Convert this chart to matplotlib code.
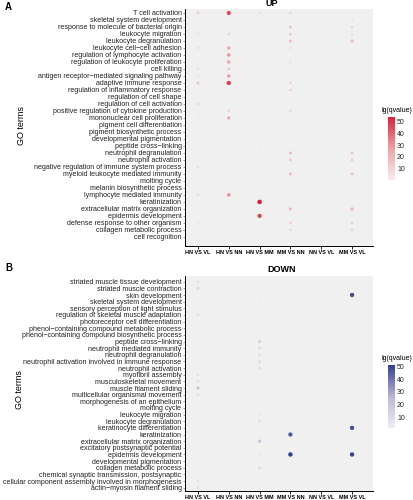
import matplotlib.pyplot as plt
import numpy as np
from matplotlib.colors import LinearSegmentedColormap, Normalize
from matplotlib.cm import ScalarMappable

plt.rcParams['font.family'] = ['Liberation Sans', 'DejaVu Sans']

# comparisons on the x axis
comparisons = ['HN VS VL', 'HN VS NN', 'HN VS MM', 'MM VS NN', 'NN VS VL', 'MM VS VL']

# UP panel: GO terms (top to bottom) and lg(qvalue) per comparison, 0 = no dot
up_terms = ['T cell activation', 'skeletal system development',
            'response to molecule of bacterial origin', 'leukocyte migration',
            'leukocyte degranulation', 'leukocyte cell\u2212cell adhesion',
            'regulation of lymphocyte activation', 'regulation of leukocyte proliferation',
            'cell killing', 'antigen receptor\u2212mediated signaling pathway',
            'adaptive immune response', 'regulation of inflammatory response',
            'regulation of cell shape', 'regulation of cell activation',
            'positive regulation of cytokine production', 'mononuclear cell proliferation',
            'pigment cell differentiation', 'pigment biosynthetic process',
            'developmental pigmentation', 'peptide cross\u2212linking',
            'neutrophil degranulation', 'neutrophil activation',
            'negative regulation of immune system process',
            'myeloid leukocyte mediated immunity', 'molting cycle',
            'melanin biosynthetic process', 'lymphocyte mediated immunity',
            'keratinization', 'extracellular matrix organization',
            'epidermis development', 'defense response to other organism',
            'collagen metabolic process', 'cell recognition']
up_vals = [
    [14, 45, 8, 10, 0, 0],
    [0, 0, 0, 0, 0, 6],
    [0, 0, 0, 16, 0, 10],
    [7, 12, 0, 14, 0, 8],
    [0, 0, 0, 18, 0, 20],
    [8, 26, 5, 8, 0, 0],
    [0, 30, 0, 0, 0, 0],
    [0, 26, 0, 7, 0, 0],
    [8, 14, 0, 0, 0, 0],
    [7, 28, 0, 0, 0, 0],
    [16, 48, 0, 12, 0, 5],
    [0, 0, 0, 12, 0, 5],
    [0, 0, 0, 0, 0, 4],
    [10, 0, 0, 0, 0, 0],
    [0, 12, 0, 10, 0, 5],
    [5, 24, 0, 0, 0, 0],
    [0, 0, 0, 0, 3, 0],
    [0, 0, 0, 0, 3, 0],
    [0, 0, 0, 0, 3, 0],
    [0, 0, 4, 0, 0, 0],
    [0, 0, 0, 18, 0, 16],
    [0, 0, 0, 16, 0, 14],
    [8, 0, 0, 0, 0, 0],
    [0, 0, 0, 18, 0, 18],
    [0, 0, 0, 0, 0, 5],
    [0, 0, 0, 0, 0, 4],
    [8, 30, 0, 0, 0, 0],
    [0, 0, 54, 0, 0, 0],
    [0, 0, 0, 20, 0, 22],
    [0, 0, 46, 0, 0, 0],
    [5, 0, 0, 12, 0, 12],
    [0, 0, 0, 10, 0, 12],
    [0, 0, 0, 3, 0, 0],
]

# DOWN panel
down_terms = ['striated muscle tissue development', 'striated muscle contraction',
              'skin development', 'skeletal system development',
              'sensory perception of light stimulus',
              'regulation of skeletal muscle adaptation',
              'photoreceptor cell differentiation',
              'phenol\u2212containing compound metabolic process',
              'phenol\u2212containing compound biosynthetic process',
              'peptide cross\u2212linking', 'neutrophil mediated immunity',
              'neutrophil degranulation',
              'neutrophil activation involved in immune response',
              'neutrophil activation', 'myofibril assembly',
              'musculoskeletal movement', 'muscle filament sliding',
              'multicellular organismal movement', 'morphogenesis of an epithelium',
              'molting cycle', 'leukocyte migration', 'leukocyte degranulation',
              'keratinocyte differentiation', 'keratinization',
              'extracellular matrix organization', 'excitatory postsynaptic potential',
              'epidermis development', 'developmental pigmentation',
              'collagen metabolic process',
              'chemical synaptic transmission, postsynaptic',
              'cellular component assembly involved in morphogenesis',
              'actin\u2212myosin filament sliding']
down_vals = [
    [10, 0, 0, 0, 0, 5],
    [14, 0, 0, 0, 0, 0],
    [0, 0, 0, 0, 0, 48],
    [0, 0, 6, 0, 0, 0],
    [4, 0, 0, 0, 0, 0],
    [10, 0, 0, 0, 0, 0],
    [4, 0, 0, 0, 0, 0],
    [0, 0, 0, 0, 3, 0],
    [0, 0, 0, 0, 3, 0],
    [0, 0, 16, 0, 0, 0],
    [0, 0, 12, 0, 0, 0],
    [0, 0, 12, 0, 0, 0],
    [0, 0, 12, 0, 0, 0],
    [0, 0, 12, 0, 0, 0],
    [10, 0, 0, 0, 0, 5],
    [10, 0, 0, 0, 0, 0],
    [20, 0, 0, 5, 0, 0],
    [10, 0, 0, 0, 0, 0],
    [0, 0, 0, 3, 0, 0],
    [0, 0, 0, 6, 0, 6],
    [0, 0, 6, 0, 0, 0],
    [0, 0, 12, 0, 0, 0],
    [0, 0, 0, 0, 0, 48],
    [0, 0, 0, 46, 0, 0],
    [0, 0, 22, 0, 0, 0],
    [0, 0, 0, 0, 4, 0],
    [0, 0, 6, 51, 0, 50],
    [0, 0, 0, 0, 3, 0],
    [0, 0, 12, 0, 0, 0],
    [0, 0, 0, 0, 4, 0],
    [8, 0, 0, 0, 0, 0],
    [10, 0, 0, 4, 0, 0],
]

W, H = 414, 500
fig = plt.figure(figsize=(W / 100, H / 100), dpi=100)

def fx(px):
    return px / W

def fy(py):
    return 1 - py / H

red = LinearSegmentedColormap.from_list('up', ['#FAEDED', '#EDA2A4', '#D92238'])
blue = LinearSegmentedColormap.from_list('down', ['#F1EEF6', '#BAB5D8', '#2F4090'])


def panel(top, bottom, terms, vals, cmap, vmin, vmax, ypad):
    ax = fig.add_axes([fx(185), fy(bottom), fx(373) - fx(185), fy(top) - fy(bottom)])
    ax.set_facecolor('#F0F0F0')
    norm = Normalize(vmin, vmax)
    v = np.array(vals, dtype=float)
    rows, cols = np.nonzero(v)
    z = v[rows, cols]
    ax.scatter(cols, rows, s=1.6 + 0.17 * z, c=z, cmap=cmap, norm=norm,
               linewidths=0, zorder=3)
    ax.set_xlim(-0.42, 5.68)
    ax.set_ylim(len(terms) - 1 + ypad[1], -ypad[0])
    ax.set_yticks(range(len(terms)))
    ax.set_yticklabels(terms, fontsize=5.1, color='#222222')
    ax.set_xticks(range(len(comparisons)))
    ax.set_xticklabels(comparisons, fontsize=4, fontweight='bold', color='black')
    ax.tick_params(axis='y', length=1.5, pad=1, width=0.4, color='#555555')
    ax.tick_params(axis='x', length=2, pad=1, width=0.6, color='black')
    for s in ['top', 'right']:
        ax.spines[s].set_visible(False)
    ax.spines['left'].set_linewidth(0.7)
    ax.spines['bottom'].set_linewidth(0.7)
    return norm


n1 = panel(9, 246, up_terms, up_vals, red, 0, 54, (0.57, 1.3))
n2 = panel(276, 491, down_terms, down_vals, blue, 2, 51, (0.86, 0.5))

# colorbars
for (top, bot, cmap, norm) in [(117, 180, red, n1), (365, 428, blue, n2)]:
    cax = fig.add_axes([fx(388), fy(bot), fx(7), fy(top) - fy(bot)])
    cb = fig.colorbar(ScalarMappable(norm=norm, cmap=cmap), cax=cax)
    cb.outline.set_visible(False)
    cb.set_ticks([10, 20, 30, 40, 50])
    cax.tick_params(length=0, labelsize=5, pad=1.5, labelcolor='#222222')
    fig.text(fx(382), fy(top - 6), 'lg(qvalue)', fontsize=5, va='center', ha='left')

fig.text(fx(272), fy(4), 'UP', fontsize=6.5, fontweight='bold', ha='center', va='center')
fig.text(fx(282), fy(269), 'DOWN', fontsize=6.5, fontweight='bold', ha='center', va='center')
fig.text(fx(5), fy(7), 'A', fontsize=7, fontweight='bold', ha='left', va='center')
fig.text(fx(5), fy(268), 'B', fontsize=7, fontweight='bold', ha='left', va='center')
fig.text(fx(21), fy(126), 'GO terms', fontsize=6.5, rotation=90, ha='center', va='center')
fig.text(fx(19), fy(390), 'GO terms', fontsize=6.5, rotation=90, ha='center', va='center')

fig.savefig('out.png', dpi=100)
